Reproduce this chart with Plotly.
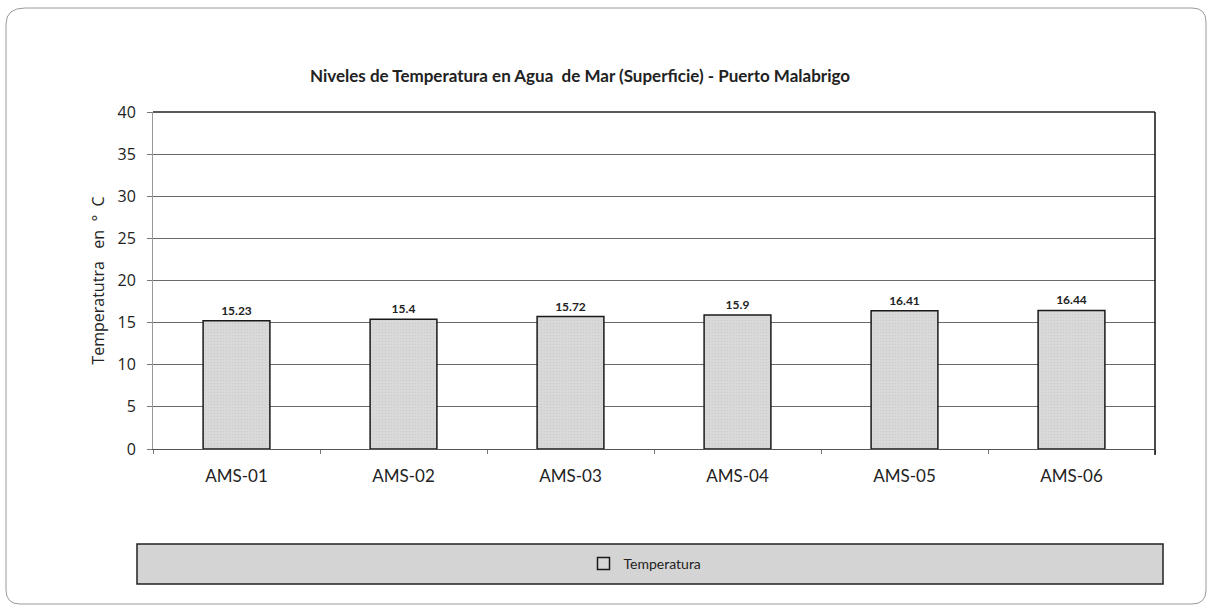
import plotly.graph_objects as go

# Sampling points and surface sea-water temperature (°C)
estaciones = ["AMS-01", "AMS-02", "AMS-03", "AMS-04", "AMS-05", "AMS-06"]
temperatura = [15.23, 15.4, 15.72, 15.9, 16.41, 16.44]
y_ticks = [0, 5, 10, 15, 20, 25, 30, 35, 40]

W, H = 1212, 609
ML, MR, MT, MB = 153, 57, 112, 160
PW, PH = W - ML - MR, H - MT - MB


def px(x):
    return (x - ML) / PW


def py(y):
    return (H - MB - y) / PH


FONT = "Lato, Open Sans, sans-serif"
FONT_WIDE = "Open Sans, Lato, sans-serif"

fig = go.Figure()
fig.add_trace(go.Bar(
    x=estaciones,
    y=temperatura,
    name="Temperatura",
    width=0.4,
    marker=dict(
        color="#d6d6d6",
        line=dict(color="#1a1a1a", width=1.5),
        pattern=dict(shape=".", fgcolor="#c2c2c2", bgcolor="#d9d9d9", size=3, solidity=0.25),
    ),
    text=[str(v) for v in temperatura],
    textposition="outside",
    textfont=dict(family=FONT, size=12, color="#222", weight="bold"),
    cliponaxis=False,
))

shapes = [
    # outer rounded frame of the chart
    dict(type="path", xref="paper", yref="paper",
         path=(f"M {px(25)},{py(8)} L {px(1192)},{py(8)} "
               f"Q {px(1206)},{py(8)} {px(1206)},{py(22)} "
               f"L {px(1206)},{py(590)} Q {px(1206)},{py(604)} {px(1192)},{py(604)} "
               f"L {px(20)},{py(604)} Q {px(6)},{py(604)} {px(6)},{py(590)} "
               f"L {px(6)},{py(24)} Q {px(6)},{py(8)} {px(25)},{py(8)} Z"),
         line=dict(color="#9a9a9a", width=1), layer="below"),
    # right border of the plot area
    dict(type="line", xref="paper", yref="paper", x0=1, x1=1, y0=py(455), y1=1,
         line=dict(color="#111", width=1.5)),
    # top line at 40
    dict(type="line", xref="paper", yref="paper", x0=0, x1=1, y0=1, y1=1,
         line=dict(color="#222", width=1.5)),
    # legend band
    dict(type="rect", xref="paper", yref="paper",
         x0=px(137), x1=px(1163), y0=py(584), y1=py(544),
         fillcolor="#d4d4d4", line=dict(color="#222", width=1.5), layer="below"),
]

fig.update_layout(
    width=W, height=H,
    margin=dict(l=ML, r=MR, t=MT, b=MB),
    paper_bgcolor="white", plot_bgcolor="white",
    font=dict(family=FONT, color="#222"),
    title=dict(
        text="<b>Niveles de Temperatura en Agua  de Mar (Superficie) - Puerto Malabrigo</b>",
        x=580 / W, xanchor="center", y=1 - 76 / H, yanchor="middle",
        font=dict(family=FONT, size=17, color="#222"),
    ),
    showlegend=True,
    legend=dict(
        orientation="h", x=px(645), xanchor="center", y=py(564), yanchor="middle",
        bgcolor="rgba(0,0,0,0)", font=dict(family=FONT, size=14, color="#222"),
        itemwidth=30,
    ),
    shapes=shapes,
    bargap=0.6,
)

fig.update_yaxes(
    range=[0, 40], tickvals=y_ticks, showgrid=True, gridcolor="#6a6a6a", gridwidth=1,
    ticks="outside", ticklen=5, tickcolor="#777", ticklabelstandoff=8,
    showline=True, linecolor="#999", linewidth=1,
    tickfont=dict(family=FONT_WIDE, size=16, color="#222"),
    title=dict(text="Temperatutra   en  °  C",
               font=dict(family=FONT_WIDE, size=16, color="#222", weight=500), standoff=8),
    zeroline=False,
)
fig.update_xaxes(
    showline=True, linecolor="#555", linewidth=1,
    ticks="outside", tickson="boundaries", ticklen=4, tickcolor="#777",
    ticklabelstandoff=12,
    tickfont=dict(family=FONT, size=17, color="#222"),
)

fig.write_html("out.html")
